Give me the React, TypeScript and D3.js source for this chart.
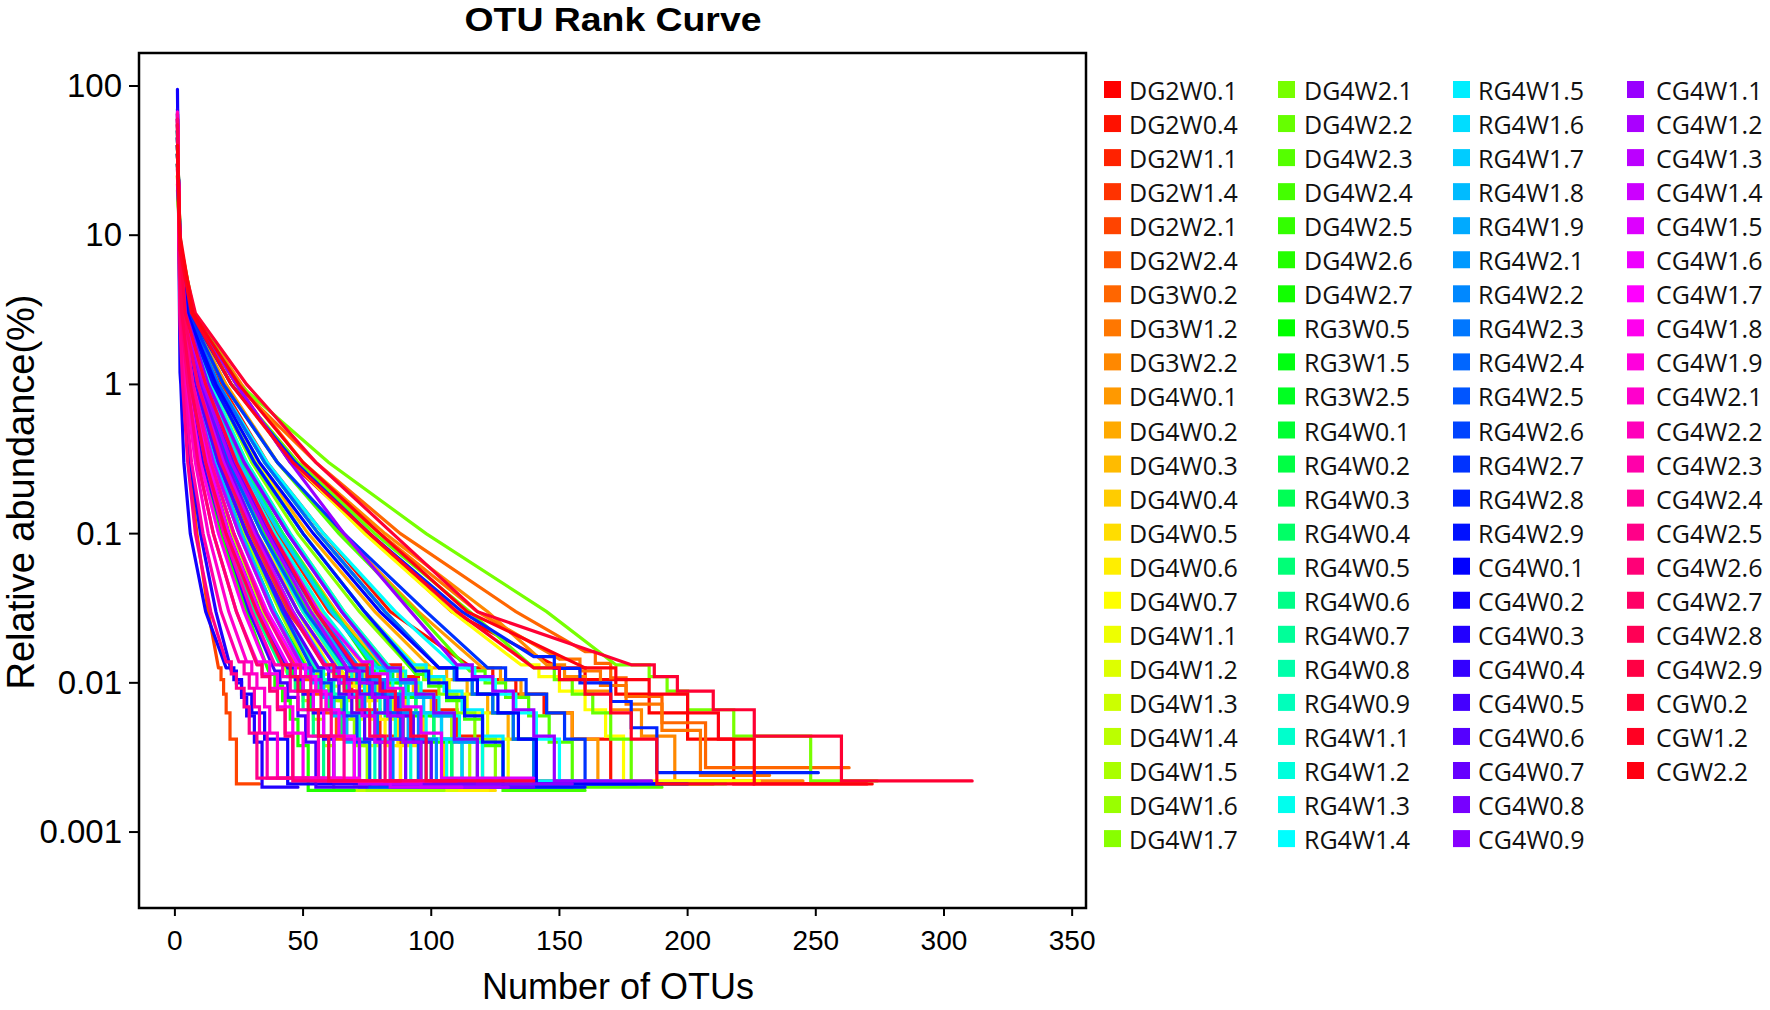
import React from "react";
import * as d3 from "d3";

// ---------------- categories ----------------
const sampleNames = [
  "DG2W0.1","DG2W0.4","DG2W1.1","DG2W1.4","DG2W2.1","DG2W2.4","DG3W0.2","DG3W1.2","DG3W2.2",
  "DG4W0.1","DG4W0.2","DG4W0.3","DG4W0.4","DG4W0.5","DG4W0.6","DG4W0.7",
  "DG4W1.1","DG4W1.2","DG4W1.3","DG4W1.4","DG4W1.5","DG4W1.6","DG4W1.7",
  "DG4W2.1","DG4W2.2","DG4W2.3","DG4W2.4","DG4W2.5","DG4W2.6","DG4W2.7",
  "RG3W0.5","RG3W1.5","RG3W2.5",
  "RG4W0.1","RG4W0.2","RG4W0.3","RG4W0.4","RG4W0.5","RG4W0.6","RG4W0.7","RG4W0.8","RG4W0.9",
  "RG4W1.1","RG4W1.2","RG4W1.3","RG4W1.4","RG4W1.5","RG4W1.6","RG4W1.7","RG4W1.8","RG4W1.9",
  "RG4W2.1","RG4W2.2","RG4W2.3","RG4W2.4","RG4W2.5","RG4W2.6","RG4W2.7","RG4W2.8","RG4W2.9",
  "CG4W0.1","CG4W0.2","CG4W0.3","CG4W0.4","CG4W0.5","CG4W0.6","CG4W0.7","CG4W0.8","CG4W0.9",
  "CG4W1.1","CG4W1.2","CG4W1.3","CG4W1.4","CG4W1.5","CG4W1.6","CG4W1.7","CG4W1.8","CG4W1.9",
  "CG4W2.1","CG4W2.2","CG4W2.3","CG4W2.4","CG4W2.5","CG4W2.6","CG4W2.7","CG4W2.8","CG4W2.9",
  "CGW0.2","CGW1.2","CGW2.2",
];

// abundance levels (%) at which the rank of each curve is read
const headLevels = [3, 1, 0.3, 0.1, 0.03];
// quantised tail: number of reads per OTU
const tailReads = [6, 5, 4, 3, 2, 1];

// row: [abund@rank1, abund@rank2, rank@3%, rank@1%, rank@0.3%, rank@0.1%, rank@0.03%,
//       rank@6reads, rank@5reads, rank@4reads, rank@3reads, rank@2reads, rank@1read,
//       abundance of one read (%), lastRank]
const dg2w = [
  [35, 9, 6.5, 24, 45, 75, 108, 150, 160, 172, 185, 200, 218, 0.0021, 272],
  [28, 8, 5, 18, 36, 58, 84, 116, 124, 133, 144, 155, 170, 0.0021, 210],
  [45, 10, 4, 12, 25, 40, 60, 82, 88, 95, 102, 110, 120, 0.0022, 165],
  [50, 8, 3.3, 9, 18, 29, 44, 60, 64, 69, 74, 80, 88, 0.0022, 120],
  [60, 3, 0, 3.5, 5.5, 8.6, 13, 17, 18, 19, 20, 21.5, 24, 0.0021, 33],
  [40, 10, 3, 7, 14, 23, 35, 48, 51, 55, 59, 63, 70, 0.0021, 95],
];
const dg3w = [
  [25, 8, 7, 24, 55, 88, 133, 160, 164, 170, 176, 190, 207, 0.0027, 263],
  [30, 7, 6, 22, 48, 80, 118, 150, 158, 166, 176, 190, 205, 0.0024, 232],
  [22, 9, 7.5, 26, 50, 82, 122, 145, 152, 160, 170, 182, 195, 0.0022, 245],
];
const dg4w0 = [
  [30, 9, 5.5, 20, 40, 65, 95, 120, 127, 135, 145, 155, 165, 0.0021, 200],
  [35, 7, 4.5, 16, 32, 52, 78, 100, 106, 114, 122, 130, 140, 0.0021, 180],
  [40, 9, 4, 13, 26, 42, 63, 82, 87, 93, 100, 108, 118, 0.002, 150],
  [38, 10, 3.8, 12, 24, 38, 57, 74, 78, 84, 90, 97, 105, 0.0021, 140],
  [55, 6, 3.2, 9, 19, 32, 50, 66, 70, 75, 80, 87, 95, 0.0019, 125],
  [45, 8, 3.5, 10, 20, 32, 48, 62, 66, 71, 76, 82, 88, 0.0019, 122],
  [25, 8, 6, 22, 46, 74, 108, 135, 142, 150, 160, 168, 175, 0.0022, 228],
];
const dg4w1 = [
  [30, 10, 4.5, 16, 32, 50, 74, 95, 100, 107, 114, 122, 130, 0.0021, 170],
  [50, 7, 3, 8, 17, 28, 43, 56, 60, 64, 69, 74, 80, 0.0019, 110],
  [40, 9, 3.6, 11, 22, 36, 54, 70, 74, 79, 85, 92, 100, 0.002, 135],
  [60, 5, 2.6, 6, 13, 22, 34, 44, 47, 50, 54, 58, 62, 0.0019, 90],
  [35, 9, 4.2, 14, 28, 45, 66, 84, 89, 95, 101, 108, 115, 0.0021, 150],
  [45, 8, 3.2, 8, 16, 27, 41, 53, 56, 60, 65, 70, 75, 0.0019, 105],
  [30, 10, 4.5, 15, 30, 48, 72, 92, 97, 103, 110, 117, 125, 0.0021, 160],
];
const dg4w2 = [
  [20, 9, 7.5, 25, 60, 98, 145, 172, 185, 192, 200, 218, 248, 0.0022, 274],
  [25, 8, 6.5, 22, 48, 78, 115, 140, 148, 155, 163, 170, 178, 0.0021, 215],
  [30, 9, 5.5, 19, 40, 64, 94, 115, 121, 129, 138, 146, 155, 0.002, 190],
  [35, 8, 4.5, 15, 31, 50, 74, 94, 99, 106, 113, 120, 128, 0.0019, 160],
  [40, 10, 3.8, 11, 22, 35, 52, 68, 72, 77, 83, 89, 95, 0.002, 125],
  [65, 5, 2.5, 5, 11, 18, 28, 37, 39, 42, 45, 48, 52, 0.0019, 70],
  [35, 9, 4, 13, 26, 42, 62, 78, 83, 88, 94, 101, 108, 0.002, 140],
];
const rg3w = [
  [50, 7, 3, 8, 16, 26, 39, 51, 54, 58, 62, 67, 72, 0.0021, 100],
  [30, 8, 5, 17, 35, 56, 82, 103, 109, 116, 124, 132, 140, 0.0021, 175],
  [55, 6, 2.7, 6, 13, 21, 33, 43, 46, 49, 53, 56, 60, 0.0022, 85],
];
const rg4w0 = [
  [40, 8, 3.8, 12, 25, 41, 61, 80, 85, 91, 97, 104, 112, 0.0021, 150],
  [45, 9, 3.6, 10, 21, 34, 51, 67, 71, 76, 82, 89, 96, 0.002, 128],
  [50, 8, 3.3, 9, 18, 30, 45, 59, 63, 67, 72, 78, 84, 0.0021, 110],
  [55, 7, 3, 7, 15, 25, 38, 49, 52, 56, 60, 65, 70, 0.0022, 95],
  [35, 10, 4.2, 13, 26, 42, 62, 78, 83, 88, 94, 101, 108, 0.0021, 145],
  [60, 6, 2.7, 6, 12, 20, 31, 41, 44, 47, 50, 54, 58, 0.0022, 80],
  [45, 8, 3.5, 10, 20, 32, 48, 63, 67, 72, 78, 84, 90, 0.0021, 118],
  [40, 9, 3.8, 11, 23, 37, 55, 71, 75, 81, 87, 93, 100, 0.002, 135],
  [50, 7, 3, 8, 17, 28, 42, 55, 58, 62, 67, 72, 78, 0.0021, 102],
];
const rg4w1 = [
  [45, 9, 3.6, 10, 21, 34, 50, 65, 69, 74, 80, 86, 92, 0.0021, 125],
  [35, 10, 4.5, 14, 28, 45, 66, 85, 90, 96, 103, 111, 120, 0.002, 158],
  [40, 8, 3.8, 12, 24, 39, 58, 75, 79, 85, 91, 98, 106, 0.0021, 140],
  [30, 9, 5, 17, 36, 58, 86, 110, 117, 125, 133, 141, 150, 0.0021, 188],
  [30, 10, 4.6, 15, 31, 50, 74, 93, 98, 105, 112, 120, 128, 0.0022, 170],
  [45, 8, 3.3, 9, 19, 31, 46, 60, 64, 68, 74, 79, 85, 0.0021, 120],
  [38, 9, 4, 12, 25, 41, 61, 79, 84, 90, 97, 104, 112, 0.0021, 150],
  [50, 7, 3, 8, 16, 26, 39, 51, 54, 58, 62, 67, 72, 0.002, 100],
  [40, 9, 3.7, 11, 22, 36, 53, 69, 73, 78, 84, 91, 98, 0.0021, 132],
];
const rg4w2 = [
  [35, 9, 4, 13, 27, 44, 65, 83, 88, 94, 101, 109, 118, 0.002, 155],
  [40, 8, 3.7, 11, 23, 38, 56, 72, 76, 82, 88, 95, 102, 0.0021, 138],
  [45, 9, 3.4, 9, 19, 31, 46, 60, 64, 68, 74, 79, 85, 0.002, 115],
  [30, 9, 5, 17, 35, 56, 82, 103, 109, 116, 124, 132, 140, 0.0021, 180],
  [45, 8, 3.5, 10, 21, 34, 51, 67, 71, 76, 82, 88, 95, 0.0021, 128],
  [50, 7, 3, 8, 17, 28, 42, 54, 57, 61, 66, 71, 76, 0.002, 105],
  [28, 9, 5.5, 19, 40, 66, 98, 122, 129, 137, 145, 152, 160, 0.0021, 200],
  [30, 8, 6, 22, 47, 76, 112, 140, 148, 158, 170, 178, 188, 0.0025, 251],
  [35, 8, 4.5, 15, 31, 50, 74, 94, 99, 106, 113, 120, 128, 0.002, 160],
];
const cg4w0 = [
  [35, 8, 4.8, 16, 33, 54, 80, 103, 110, 118, 126, 134, 141, 0.0021, 190],
  [95, 1.2, 0, 2.3, 3.5, 6, 12, 20, 23, 26, 30, 35, 44, 0.0021, 62],
  [70, 4, 2.2, 3.5, 6, 10, 16, 22, 24, 26, 28, 31, 34, 0.002, 48],
  [60, 5, 2.6, 6, 13, 21, 33, 44, 47, 50, 54, 58, 62, 0.0021, 90],
  [65, 5, 2.5, 5, 11, 19, 29, 39, 41, 44, 48, 51, 55, 0.002, 75],
  [50, 7, 3, 8, 17, 28, 43, 56, 60, 64, 69, 74, 80, 0.0021, 110],
  [40, 9, 3.7, 11, 23, 37, 55, 71, 75, 81, 87, 93, 100, 0.002, 140],
  [45, 8, 3.5, 10, 20, 32, 48, 63, 67, 72, 78, 84, 90, 0.0021, 120],
  [35, 9, 4.2, 13, 27, 44, 65, 83, 88, 94, 101, 109, 118, 0.0021, 155],
];
const cg4w1 = [
  [30, 8, 7, 24, 45, 66, 92, 110, 116, 124, 132, 140, 148, 0.0022, 186],
  [40, 9, 3.6, 11, 22, 36, 53, 68, 72, 77, 83, 89, 96, 0.002, 130],
  [55, 6, 3, 7, 15, 25, 38, 50, 53, 57, 61, 66, 72, 0.0021, 96],
  [45, 8, 3.3, 9, 19, 31, 46, 60, 64, 68, 73, 78, 84, 0.002, 112],
  [40, 9, 3.8, 12, 24, 38, 56, 73, 77, 83, 89, 96, 104, 0.0023, 140],
  [60, 5, 2.6, 6, 13, 21, 33, 44, 47, 50, 54, 58, 62, 0.0022, 85],
  [55, 6, 2.8, 7, 14, 23, 36, 48, 51, 55, 59, 64, 70, 0.0022, 100],
  [65, 5, 2.4, 5, 10, 17, 27, 35, 37, 40, 43, 46, 50, 0.0023, 72],
  [60, 4, 2.2, 4.5, 9, 15, 24, 32, 34, 37, 40, 43, 46, 0.0023, 65],
];
const cg4w2 = [
  [67, 4, 2.2, 4, 8, 13, 21, 28, 30, 32, 35, 37, 40, 0.0023, 58],
  [55, 6, 2.7, 6, 12, 19, 30, 39, 42, 45, 48, 52, 56, 0.0022, 80],
  [65, 3, 0, 3.5, 6.5, 11, 18, 25, 27, 29, 31, 33, 36, 0.0023, 52],
  [50, 7, 3, 7, 14, 23, 35, 46, 49, 53, 57, 61, 66, 0.0022, 95],
  [60, 2.5, 0, 3, 5, 8, 14, 20, 22, 24, 27, 29, 32, 0.0023, 45],
  [60, 5, 2.4, 5, 9, 15, 24, 32, 34, 37, 40, 43, 46, 0.0022, 68],
  [45, 8, 3.3, 9, 18, 30, 45, 58, 62, 66, 71, 76, 82, 0.0022, 110],
  [55, 6, 2.7, 6, 12, 20, 32, 42, 45, 48, 52, 56, 60, 0.0022, 88],
  [40, 9, 4, 12, 24, 38, 55, 70, 75, 80, 86, 92, 98, 0.0022, 140],
];
const cgw = [
  [30, 8, 8, 28, 55, 85, 118, 178, 187, 196, 210, 226, 260, 0.0022, 311],
  [35, 8, 6.5, 22, 46, 76, 110, 140, 150, 160, 170, 178, 188, 0.0021, 226],
  [40, 10, 7, 25, 50, 80, 114, 160, 172, 185, 200, 212, 226, 0.0021, 270],
];

const xTicks = [0, 50, 100, 150, 200, 250, 300, 350];
const yTicks = [100, 10, 1, 0.1, 0.01, 0.001];
const yTickLabels = ["100", "10", "1", "0.1", "0.01", "0.001"];

const allRows: number[][] = [
  ...dg2w, ...dg3w, ...dg4w0, ...dg4w1, ...dg4w2, ...rg3w,
  ...rg4w0, ...rg4w1, ...rg4w2, ...cg4w0, ...cg4w1, ...cg4w2, ...cgw,
];

// ---------------- layout ----------------
const W = 1770, H = 1010;
const PL = 139, PR = 1086, PT = 53, PB = 908;
const AXIS_FONT = "'Liberation Sans', Arial, Helvetica, sans-serif";
const LEG_FONT = "'Open Sans', 'Noto Sans', sans-serif";

const x = d3.scaleLinear().domain([-14, 355.4]).range([PL, PR]);
const y = d3.scaleLog().domain([Math.pow(10, -3.509), Math.pow(10, 2.221)]).range([PB, PT]);

const colorOf = (i: number) => d3.hsl((i * 360) / 90, 1, 0.5).formatHex();

const headLine = d3.line<[number, number]>().x(d => x(d[0])).y(d => y(d[1]));
const tailLine = d3.line<[number, number]>().x(d => x(d[0])).y(d => y(d[1])).curve(d3.curveStepAfter);

function seriesPath(row: number[]): string {
  const unit = row[13];
  const head: [number, number][] = [[1, row[0]], [2, row[1]]];
  headLevels.forEach((lv, i) => {
    const r = row[2 + i];
    const last = head[head.length - 1];
    if (r > last[0] && lv < last[1]) head.push([r, lv]);
  });
  head.push([row[7], tailReads[0] * unit]);
  const tail: [number, number][] = [head[head.length - 1]];
  for (let k = 1; k < tailReads.length; k++) tail.push([row[7 + k], tailReads[k] * unit]);
  tail.push([row[14], unit]);
  return (headLine(head) || "") + (tailLine(tail) || "");
}

const LEG_X = [1104, 1278, 1453, 1627];
const LEG_TX = [25, 26, 25, 29];
const LEG_Y0 = 81, LEG_DY = 34.05, LEG_ROWS = 23;

export default function App() {
  return (
    <svg width={W} height={H} style={{ position: "absolute", left: 0, top: 0, background: "#fff" }}
      xmlns="http://www.w3.org/2000/svg">
      <rect x={0} y={0} width={W} height={H} fill="#fff" />
      {/* title */}
      <text x={613} y={31} textAnchor="middle" fontFamily={AXIS_FONT} fontWeight="bold" fontSize={34}
        textLength={297} lengthAdjust="spacingAndGlyphs">OTU Rank Curve</text>

      {/* curves */}
      <g fill="none" strokeWidth={3.2} strokeLinejoin="miter" strokeLinecap="round">
        {allRows.map((row, i) => (
          <path key={i} d={seriesPath(row)} stroke={colorOf(i)} />
        ))}
      </g>

      {/* box */}
      <rect x={PL} y={PT} width={PR - PL} height={PB - PT} fill="none" stroke="#000" strokeWidth={2.5} />

      {/* x axis */}
      {xTicks.map(t => (
        <g key={"x" + t}>
          <line x1={x(t)} x2={x(t)} y1={PB} y2={PB + 8} stroke="#000" strokeWidth={2} />
          <text x={x(t)} y={950} textAnchor="middle" fontFamily={AXIS_FONT} fontSize={28}>{t}</text>
        </g>
      ))}
      {/* y axis */}
      {yTicks.map((t, i) => (
        <g key={"y" + t}>
          <line x1={PL - 10} x2={PL} y1={y(t)} y2={y(t)} stroke="#000" strokeWidth={2} />
          <text x={122} y={y(t) + 11} textAnchor="end" fontFamily={AXIS_FONT} fontSize={33}>{yTickLabels[i]}</text>
        </g>
      ))}
      <text x={618} y={999} textAnchor="middle" fontFamily={AXIS_FONT} fontSize={36}>Number of OTUs</text>
      <text transform="translate(34,492) rotate(-90)" textAnchor="middle" fontFamily={AXIS_FONT} fontSize={38}>
        Relative abundance(%)
      </text>

      {/* legend */}
      {sampleNames.map((name, i) => {
        const col = Math.floor(i / LEG_ROWS);
        const r = i % LEG_ROWS;
        const top = LEG_Y0 + r * LEG_DY;
        return (
          <g key={name}>
            <rect x={LEG_X[col]} y={top} width={17} height={17} fill={colorOf(i)} />
            <text x={LEG_X[col] + LEG_TX[col]} y={top + 19} fontFamily={LEG_FONT} fontSize={25} fill="#111">{name}</text>
          </g>
        );
      })}
    </svg>
  );
}
